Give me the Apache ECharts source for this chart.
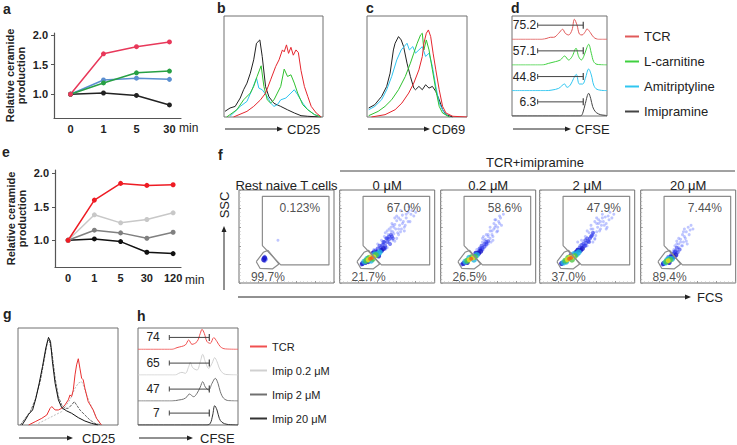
<!DOCTYPE html>
<html><head><meta charset="utf-8">
<script src="https://cdn.jsdelivr.net/npm/echarts@6/dist/echarts.min.js"></script>
<style>html,body{margin:0;padding:0;background:#fff}#c{width:737px;height:445px}</style>
</head><body><div id="c"></div>
<script>
const FONT = '"Liberation Sans", Arial, Helvetica, sans-serif';

// ===== Panel a: relative ceramide production =====
const aTimes = ['0','1','5','30'];
const aTCR  = [1.00, 1.68, 1.80, 1.88];
const aLcar = [1.00, 1.19, 1.36, 1.39];
const aAmit = [1.00, 1.24, 1.27, 1.25];
const aImip = [1.00, 1.02, 0.98, 0.82];
const cerTicks = [1.0, 1.5, 2.0];

// ===== Panel e =====
const eTimes = ['0','1','5','30','120'];
const eTCR    = [1.00, 1.60, 1.85, 1.82, 1.83];
const eImip02 = [1.00, 1.38, 1.26, 1.31, 1.41];
const eImip2  = [1.00, 1.15, 1.11, 1.03, 1.12];
const eImip20 = [1.00, 1.02, 0.98, 0.82, 0.80];

// ===== Panel b: CD25 histograms =====
const bImip = [[1,5.6],[6.1,8.9],[11.3,10.5],[16.4,18.8],[19.8,27],[23.2,33.5],[26.6,43.4],[30,56.6],[32.8,73],[36.2,76.3],[38.6,60],[42,30],[45.4,20],[50.5,13.5],[57.3,10.5],[64,7.2],[71,4],[77.8,1.3],[84.6,0.7],[98,0]];
const bAmit = [[6.1,0.7],[16.4,10.5],[23.2,15.5],[28.3,27],[32.8,38.5],[35.2,28.6],[38.6,27],[43.7,20.4],[47.1,13.8],[50.5,10.5],[53.9,12.2],[57.3,17],[62.5,18.8],[67.6,23.7],[71,27],[74.4,22],[79.5,13.8],[84.6,7.2],[91.5,2.3],[98.3,0]];
const bLcar = [[2.7,0],[13,7.2],[19.8,17],[26.6,23.7],[30,30.3],[33.4,40.1],[37.5,50.7],[40.3,30.3],[43.7,17],[47.1,13.8],[50.5,17],[53.9,23.7],[57.3,30.3],[60.8,47.4],[64.2,40.1],[67.6,41.8],[71,33.6],[74.4,23.7],[79.5,12.2],[84.6,7.2],[91.5,2.3],[98.3,0]];
const bTCR  = [[9.6,0],[23.2,5.6],[30,10.5],[36.9,17],[42,23.7],[47.1,36.8],[52.2,50],[55.6,56.6],[59,66.4],[60.8,64.5],[63.1,71.4],[65.2,63],[67.6,69],[70,61.2],[72.7,66.4],[75.1,63.8],[77.8,46],[81.2,30.3],[84.6,20.4],[88.1,10.5],[93.2,3.9],[98.3,0]];

// ===== Panel c: CD69 histograms =====
const cImip = [[1.7,8.9],[7.8,12.2],[14.6,20.4],[19.7,30.3],[23.1,43.4],[26.4,66.4],[28.1,73],[31.5,79.6],[34.2,76.3],[36.6,69.7],[40,53.3],[43.4,40.1],[46.8,28.6],[48.5,27],[51.9,30.3],[55.3,27],[58.6,31.9],[62,28.6],[65.4,30.3],[68.8,25.3],[72.2,17.1],[75.6,7.2],[79,2.3],[85.8,0]];
const cAmit = [[1.7,7.2],[7.8,10.5],[14.6,17.1],[19.7,27],[24.7,40.1],[29.8,56.6],[34.2,66.4],[40,73],[42.4,66.4],[45.8,69.7],[48.5,63.2],[51.9,66.4],[55.3,69.7],[58.6,59.9],[62,63.2],[65.4,50],[68.8,30.3],[72.2,13.8],[77.3,3.9],[82.4,0]];
const cLcar = [[1.7,1.3],[11.2,5.6],[18,10.5],[24.7,17.1],[31.5,27],[38.3,40.1],[43.4,53.3],[46.8,63.2],[50.2,73],[53.6,81.3],[55.3,82.9],[56.9,66.4],[59.3,76.3],[62,66.4],[65.4,46.7],[68.8,27],[72.2,10.5],[75.6,3.9],[82.4,0]];
const cTCR  = [[4.4,0],[18,2.3],[28.1,7.2],[34.9,13.8],[41.7,23.7],[46.8,33.6],[51.9,46.7],[55.3,59.9],[56.9,73],[59.3,82.9],[61.4,86.2],[63.7,79.6],[66.1,63.2],[68.8,46.7],[72.2,27],[75.6,10.5],[79,3.9],[85.8,0.7],[100,0]];

// ===== Panel d: CFSE dilution =====
const dNames = ['TCR','L-carnitine','Amitriptyline','Imipramine'];
const dPct = ['75.2','57.1','44.8','6.3'];
const dGate = [27, 75];
const dTCR  = [[0,0],[31.6,0],[36.8,3.9],[40.4,7.8],[43.9,7.8],[49.1,23.4],[53.3,39],[56.1,23.4],[59.6,16.9],[63.2,36.4],[65.6,77.9],[68.4,55.8],[70.9,20.8],[73.7,16.9],[77.2,29.9],[78.9,40.3],[82.5,26],[86,7.8],[91.2,0],[100,0]];
const dLcar = [[0,0],[31.6,0],[38.6,6.5],[45.6,13],[50.9,19.5],[55.4,35],[59.6,19.5],[63.2,32.5],[67.4,65],[70.2,32.5],[73,19.5],[75.4,32.5],[78.9,68.8],[80.7,80.5],[83.5,45.5],[86,13],[89.5,2.6],[100,0]];
const dAmit = [[0,0],[35.1,0],[42.1,2.6],[49.1,9.1],[55.4,26],[57.9,13],[61.4,22],[64.9,48],[67.7,63.6],[70.9,26],[74.4,26],[77.2,48],[80.7,84.4],[83.5,61],[86,22],[89.5,5.2],[100,0]];
const dImip = [[0,0],[71.9,0],[74.4,10.4],[77.2,49],[80.7,88.3],[82.8,68.8],[84.9,36.4],[87.7,16.9],[91.2,7.8],[94.7,3.9],[98.2,2.6],[100,0]];

// ===== Panel f: FCS/SSC dot plots [FCS, SSC, density level] =====
const fTitles = ['Rest naive T cells','0 \u03bcM','0.2 \u03bcM','2 \u03bcM','20 \u03bcM'];
const fUpper = ['0.123%','67.0%','58.6%','47.9%','7.44%'];
const fLower = ['99.7%','21.7%','26.5%','37.0%','89.4%'];
const gateBig = [[24.6,40.1],[24.6,93.2],[94.7,93.2],[94.7,19.4],[43.9,19.4]];
const gateSmall = [[18.2,22.9],[25.6,33],[30.5,35.1],[42.1,20.4],[35.1,15.1],[22.1,15.8]];
const fRest = [[26,25,3],[27,27,3],[28,26,2],[26,27,2],[27,24,2],[28,28,1],[25,26,1],[29,25,1],[27,29,1],[41,46,1]];
const f0 = [[32,26,7],[34,27,7],[30,25,6],[36,28,6],[33,28,6],[28,24,5],[38,30,5],[31,27,5],[35,26,5],[26,23,4],[40,31,4],[29,26,4],[37,31,4],[33,24,4],[42,33,4],[24,21,3],[27,22,3],[39,33,3],[44,35,3],[30,23,3],[41,29,3],[35,32,3],[46,37,3],[23,20,2],[43,38,2],[48,40,2],[45,41,2],[50,44,2],[38,35,2],[52,47,2],[47,44,2],[40,37,2],[53,42,2],[55,50,2],[49,48,2],[42,40,2],[46,44,2],[50,48,2],[44,36,2],[48,38,2],[52,50,2],[36,34,2],[40,30,2],[54,52,2],[56,48,2],
  [57,53,1],[54,56,1],[59,58,1],[61,54,1],[58,63,1],[63,62,1],[60,67,1],[65,58,1],[62,70,1],[67,66,1],[56,46,1],[51,52,1],[66,73,1],[70,70,1],[72,76,1],[75,74,1],[64,78,1],[69,62,1],[57,60,1],[52,58,1],[47,50,1],[60,48,1],[74,66,1],[68,56,1],[55,64,1],[78,72,1],
  [44,46,1],[48,36,1],[52,44,1],[46,42,1],[56,55,1],[58,45,1],[62,52,1],[50,56,1],[54,60,1],[64,68,1],[68,60,1],[60,72,1],[66,64,1],[70,74,1],[58,70,1],[72,66,1],[62,58,1],[54,48,1],[48,54,1],[44,40,1],[40,42,1],[36,36,1],[42,30,1],[50,38,1],[56,62,1],[64,55,1],[76,78,1],[80,76,1],[73,82,1],[45,34,1]];
const f02 = [[32,26,7],[34,27,6],[30,25,6],[36,28,5],[28,24,5],[33,28,5],[38,30,4],[26,23,4],[35,25,4],[30,27,4],[40,32,3],[24,21,3],[42,34,3],[28,22,3],[37,32,3],[44,36,2],[46,39,2],[41,37,2],[48,42,2],[50,45,2],[43,40,2],[22,20,2],[40,34,2],[44,38,2],[46,42,2],[38,32,2],[42,36,2],[48,44,2],
  [52,48,1],[55,50,1],[50,52,1],[54,56,1],[57,60,1],[59,55,1],[56,64,1],[61,66,1],[60,60,1],[47,47,1],[53,44,1],[63,70,1],[58,68,1],[64,62,1],[52,60,1],[66,74,1],[45,50,1],
  [44,44,1],[48,40,1],[50,50,1],[46,46,1],[54,52,1],[56,58,1],[52,56,1],[58,62,1],[60,56,1],[62,64,1],[50,42,1],[42,38,1],[38,36,1],[55,46,1],[57,68,1],[62,72,1],[48,52,1],[44,48,1]];
const f2 = [[31,26,7],[33,27,7],[35,28,6],[29,25,6],[32,28,6],[37,29,5],[27,24,5],[34,25,5],[30,27,5],[39,31,4],[25,22,4],[36,31,4],[41,33,4],[28,23,4],[43,35,3],[23,21,3],[38,33,3],[45,37,3],[33,30,3],[40,35,3],[47,40,2],[49,43,2],[44,41,2],[51,45,2],[53,48,2],[42,38,2],[55,51,2],[48,46,2],[44,38,2],[46,42,2],[48,40,2],[50,48,2],[52,44,2],[54,50,2],[40,36,2],[38,30,2],[56,54,2],
  [57,54,1],[59,51,1],[56,58,1],[61,60,1],[63,56,1],[60,64,1],[65,62,1],[67,66,1],[62,68,1],[70,64,1],[58,47,1],[52,54,1],[69,71,1],[73,68,1],[66,74,1],[76,70,1],[54,62,1],[71,60,1],
  [46,44,1],[50,40,1],[52,46,1],[48,50,1],[56,52,1],[58,48,1],[60,55,1],[54,58,1],[62,64,1],[64,58,1],[66,70,1],[68,62,1],[58,66,1],[72,72,1],[44,46,1],[42,40,1],[60,70,1],[74,76,1],[50,56,1],[56,44,1],[64,66,1],[70,58,1],[40,44,1],[78,74,1]];
const f20 = [[29,24,6],[31,25,5],[27,23,5],[30,26,4],[33,26,4],[26,22,4],[28,25,4],[35,28,3],[24,21,3],[32,28,3],[37,30,3],[30,22,3],[34,31,2],[39,33,2],[36,34,2],[41,36,2],[38,38,2],[23,20,2],[32,30,2],[35,32,2],[37,34,2],[29,28,2],[33,27,2],
  [43,40,1],[40,42,1],[45,44,1],[42,47,1],[47,48,1],[44,52,1],[48,55,1],[46,58,1],[50,60,1],[51,52,1],[38,45,1],[53,62,1],[49,42,1],[36,40,1],
  [35,36,1],[40,38,1],[42,44,1],[44,40,1],[46,50,1],[40,48,1],[48,45,1],[52,57,1],[34,34,1],[38,42,1],[45,55,1],[55,58,1]];
const fPoints = [fRest, f0, f02, f2, f20];

// ===== Panel g: CD25 histograms =====
const gTCR = [[10.6,0],[17.2,3.4],[23.8,6.9],[28.8,10.3],[32.1,17.2],[33.8,19],[37.1,15.5],[40.4,15.5],[43.7,17.2],[47,20.7],[50.3,25.9],[52,31],[53.6,29.3],[55.3,36.2],[57,51.7],[58.6,62],[60.3,68.3],[61.9,58.6],[63.6,48.3],[65.2,46.6],[66.9,37.9],[70.2,24.1],[75.2,15.5],[78.5,6.9],[83.4,0]];
const gImip02 = [[17.2,0],[30.5,6.9],[43.7,13.8],[52,25.9],[57,37.9],[60.3,43.1],[63.6,44.8],[65.2,41.4],[68.5,31],[73.5,19],[78.5,6.9],[83.4,0]];
const gImip2 = [[2.3,0],[7.3,6.9],[12.3,13.8],[17.2,25.9],[22.2,44.8],[26.5,69],[29.5,86.2],[31.1,87.9],[33.8,75.9],[37.1,48.3],[40.4,29.3],[43.7,20.7],[47,17.2],[50.3,17.2],[53.6,20.7],[56.3,24.1],[58.6,20.7],[61.9,15.5],[66.9,10.3],[71.9,5.2],[76.8,1.7],[83.4,0]];
const gImip20 = [[4,0],[7.3,5.2],[10.6,11],[14.6,15.5],[17.9,27.6],[21.2,43.1],[24.5,60.3],[27.8,79.3],[30.5,90.3],[32.5,86.2],[34.4,65.5],[37.1,43.1],[40.4,25.9],[43.7,17.9],[48.7,14.5],[53.6,12.1],[60.3,7.6],[66.9,4.1],[73.5,1.7],[80.1,0]];

// ===== Panel h: CFSE dilution =====
const hNames = ['TCR','Imip 0.2 \u03bcM','Imip 2 \u03bcM','Imip 20 \u03bcM'];
const hPct = ['74','65','47','7'];
const hGate = [31.3, 71.3];
const hTCR = [[0,0],[34,0],[39,6.6],[47.3,17],[50.7,36.8],[54,19.7],[59,30.3],[62.3,63],[64,79],[66.3,63],[69,30.3],[72.3,23.7],[75.7,46],[79,30.3],[82.3,10.5],[87.3,1.3],[100,0]];
const hImip02 = [[0,0],[37.3,0],[40.7,6.6],[44,10.5],[47.3,6.6],[50.7,33],[52.3,50],[54.7,29],[59,19.7],[62.3,52.6],[64.7,81.6],[67.3,52.6],[70.7,26.3],[74,46],[76.7,68.4],[79,52.6],[82.3,19.7],[87.3,2.6],[100,0]];
const hImip2 = [[0,0],[34,0],[40.7,3.9],[45.7,7.9],[49,17],[51.3,27.6],[55.7,17],[59,30.3],[62.3,55.3],[64.7,76.3],[67.3,55.3],[70.7,43.4],[74,69.7],[77.3,89.5],[80,69.7],[82.3,36.8],[85.7,10.5],[90.7,1.3],[100,0]];
const hImip20 = [[0,0],[69,0],[72.3,6.6],[74.7,39.5],[76.7,76.3],[79,59.2],[81.3,26.3],[84,10.5],[89,2.6],[100,0]];

// ================= build =================
const grids = [], xAxis = [], yAxis = [], series = [];
function addGrid(g, xa, ya) {
  const i = grids.length; grids.push(g);
  xAxis.push(Object.assign({gridIndex: i}, xa));
  yAxis.push(Object.assign({gridIndex: i}, ya));
  return i;
}
const hidden = (min, max) => ({type: 'value', min, max, show: false});
const frame = (left, top, width, height) => ({left, top, width, height, show: true, borderColor: '#707070', borderWidth: 1, backgroundColor: 'rgba(0,0,0,0)'});
function curve(gi, name, data, color, extra) {
  series.push(Object.assign({type: 'line', name, xAxisIndex: gi, yAxisIndex: gi, data, symbol: 'none', showSymbol: false,
    lineStyle: {color, width: 1}, itemStyle: {color}, silent: true, z: 3}, extra || {}));
}
function bracket(gi, x0, x1, y, txt, dist, fs) {
  series.push({type: 'line', xAxisIndex: gi, yAxisIndex: gi, silent: true, symbol: 'rect', showSymbol: true, z: 4,
    lineStyle: {color: '#444', width: 1}, itemStyle: {color: '#444'},
    data: [{value: [x0, y], symbolSize: [1, 5], label: {show: true, position: 'left', distance: dist, formatter: txt, fontSize: fs, color: '#222'}},
           {value: [x1, y], symbolSize: [1.2, 7]}]});
}

const axLine = {show: true, onZero: false, lineStyle: {color: '#555', width: 1.2}};
const boldLbl = {fontWeight: 'bold', fontSize: 11, color: '#222'};
function timeAxes(times, xmax, ymax) {
  return [
    {type: 'value', min: -0.5, max: xmax, axisLine: axLine, axisTick: {show: false}, splitLine: {show: false},
     axisLabel: Object.assign({customValues: times.map((_, i) => i), formatter: v => (times[v] !== undefined ? times[v] : ''), margin: 5}, boldLbl)},
    {type: 'value', min: 0.6, max: ymax, axisLine: axLine, splitLine: {show: false},
     axisTick: {show: true, length: 3, customValues: cerTicks, lineStyle: {color: '#555'}},
     axisLabel: Object.assign({customValues: cerTicks, formatter: v => v.toFixed(1), margin: 6}, boldLbl),
     name: 'Relative ceramide\nproduction', nameLocation: 'middle', nameGap: 28,
     nameTextStyle: {fontWeight: 'bold', fontSize: 11, lineHeight: 11, color: '#222'}}
  ];
}
const ptSeries = (gi, name, times, vals, color) => ({type: 'line', name, xAxisIndex: gi, yAxisIndex: gi, silent: true,
  data: times.map((_, i) => [i, vals[i]]), symbol: 'circle', symbolSize: 5, showSymbol: true,
  lineStyle: {color, width: 1.5}, itemStyle: {color}});

// a
let ta = timeAxes(aTimes, 3.35, 2.03);
const ga = addGrid({left: 54, top: 33, width: 127, height: 85}, ta[0], ta[1]);
series.push(ptSeries(ga, 'a Imipramine', aTimes, aImip, '#222'));
series.push(ptSeries(ga, 'a Amitriptyline', aTimes, aAmit, '#5b8fd0'));
series.push(ptSeries(ga, 'a L-carnitine', aTimes, aLcar, '#27a044'));
series.push(ptSeries(ga, 'a TCR', aTimes, aTCR, '#e8385a'));

// e
let te = timeAxes(eTimes, 4.3, 2.05);
const ge = addGrid({left: 55, top: 170, width: 126, height: 97}, te[0], te[1]);
series.push(ptSeries(ge, 'e Imip 20', eTimes, eImip20, '#111'));
series.push(ptSeries(ge, 'e Imip 2', eTimes, eImip2, '#808080'));
series.push(ptSeries(ge, 'e Imip 0.2', eTimes, eImip02, '#c8c8c8'));
series.push(ptSeries(ge, 'e TCR', eTimes, eTCR, '#ee1c24'));

// b
const gb = addGrid(frame(224, 16, 99, 101), hidden(0, 100), hidden(0, 100));
curve(gb, 'b Imipramine', bImip, '#222');
curve(gb, 'b Amitriptyline', bAmit, '#2ec4ef');
curve(gb, 'b L-carnitine', bLcar, '#2fc12f');
curve(gb, 'b TCR', bTCR, '#e5262e');
// c
const gc = addGrid(frame(367, 16, 100, 101), hidden(0, 100), hidden(0, 100));
curve(gc, 'c Imipramine', cImip, '#222');
curve(gc, 'c Amitriptyline', cAmit, '#2ec4ef');
curve(gc, 'c L-carnitine', cLcar, '#2fc12f');
curve(gc, 'c TCR', cTCR, '#e5262e');

// d
addGrid(frame(512, 16, 95, 100), hidden(0, 100), hidden(0, 100));
const dData = [dTCR, dLcar, dAmit, dImip];
const dColors = ['#e05a5a', '#3fd03f', '#30c6f0', '#444'];
const dBase = [39.3, 65, 90.7, 116];
dData.forEach((arr, i) => {
  const gi = addGrid({left: 512, top: dBase[i] - 25.7, width: 95, height: 25.7}, hidden(0, 100), hidden(0, 100));
  curve(gi, dNames[i], arr, dColors[i], {smooth: 0.35});
  bracket(gi, dGate[0], dGate[1], 55, dPct[i], 1, 12);
});

// f
const fLeft = [239, 339.7, 440.7, 539.7, 640.7];
const dotColor = [null, 'rgba(110,125,255,0.55)', 'rgba(45,55,235,0.75)', '#1818c8', '#1fb4e0', '#4ec846', '#e8e020', '#f05a1e'];
const dotSize = [0, 3, 4, 5, 6, 6, 5, 4];
const fAxis = () => ({type: 'value', min: 0, max: 100, interval: 20, axisLine: {show: false},
  axisTick: {show: true, inside: true, length: 2, lineStyle: {color: '#999'}},
  minorTick: {show: true, splitNumber: 5, length: 1.5, lineStyle: {color: '#bbb'}},
  axisLabel: {show: false}, splitLine: {show: false}});
fLeft.forEach((L, k) => {
  const gi = addGrid(frame(L, 190, 95, 93), fAxis(), fAxis());
  curve(gi, 'gate big', gateBig.concat([gateBig[0]]), '#8c8c8c', {lineStyle: {color: '#8c8c8c', width: 1.2}});
  curve(gi, 'gate small', gateSmall.concat([gateSmall[0]]), '#8c8c8c', {lineStyle: {color: '#8c8c8c', width: 1.2}});
  const pts = fPoints[k].slice().sort((p, q) => p[2] - q[2]);
  series.push({type: 'scatter', xAxisIndex: gi, yAxisIndex: gi, silent: true, z: 2, data: pts,
    symbolSize: v => dotSize[v[2]], itemStyle: {color: p => dotColor[p.value[2]]}});
  series.push({type: 'scatter', xAxisIndex: gi, yAxisIndex: gi, silent: true, z: 5, symbolSize: 1,
    itemStyle: {color: 'rgba(0,0,0,0)'}, data: [[86, 81]],
    label: {show: true, position: 'left', distance: 0, formatter: fUpper[k], fontSize: 12, color: '#222'}});
  series.push({type: 'scatter', xAxisIndex: gi, yAxisIndex: gi, silent: true, z: 5, symbolSize: 1,
    itemStyle: {color: 'rgba(0,0,0,0)'}, data: [[12, 6]],
    label: {show: true, position: 'right', distance: 0, formatter: fLower[k], fontSize: 12, color: '#222'}});
});

// g
const gg = addGrid(frame(18, 328, 100, 97), hidden(0, 100), hidden(0, 100));
curve(gg, 'g Imip 0.2', gImip02, '#bdbdbd', {lineStyle: {color: '#bdbdbd', width: 1, type: [2, 1.5]}});
curve(gg, 'g TCR', gTCR, '#e83030');
curve(gg, 'g Imip 2', gImip2, '#666', {lineStyle: {color: '#666', width: 1, type: [3, 1]}});
curve(gg, 'g Imip 20', gImip20, '#111');

// h
addGrid(frame(138, 328, 100, 97), hidden(0, 100), hidden(0, 100));
const hData = [hTCR, hImip02, hImip2, hImip20];
const hColors = ['#f05050', '#d0d0d0', '#707070', '#333'];
const hBase = [349.3, 375, 401, 425];
hData.forEach((arr, i) => {
  const gi = addGrid({left: 138, top: hBase[i] - 25.3, width: 100, height: 25.3}, hidden(0, 100), hidden(0, 100));
  curve(gi, hNames[i], arr, hColors[i], {smooth: 0.35});
  bracket(gi, hGate[0], hGate[1], 47, hPct[i], 9, 12);
});

// ============ decorations (text, arrows) ============
const graphic = [];
function txt(text, x, y, o) {
  graphic.push({type: 'text', x, y, silent: true, rotation: (o && o.rot) || 0,
    style: {text, font: (o && o.font) || ('13px ' + FONT), fill: '#222', align: (o && o.align) || 'left', verticalAlign: 'middle'}});
}
function arrow(x1, y1, x2, y2) {
  const dx = x2 - x1, dy = y2 - y1, L = Math.hypot(dx, dy), ux = dx / L, uy = dy / L;
  const bx = x2 - ux * 6, by = y2 - uy * 6;
  graphic.push({type: 'line', silent: true, shape: {x1, y1, x2: bx, y2: by}, style: {stroke: '#222', lineWidth: 1}});
  graphic.push({type: 'polygon', silent: true, shape: {points: [[x2, y2], [bx - uy * 2.5, by + ux * 2.5], [bx + uy * 2.5, by - ux * 2.5]]}, style: {fill: '#222'}});
}
const LET = 'bold 14px ' + FONT;
txt('a', 3, 9, {font: LET}); txt('b', 217, 8, {font: LET}); txt('c', 366, 8, {font: LET}); txt('d', 511, 8, {font: LET});
txt('e', 2, 152, {font: LET}); txt('f', 218, 155, {font: LET}); txt('g', 3, 314, {font: LET}); txt('h', 137, 316, {font: LET});
txt('min', 179, 128, {font: '12px ' + FONT});
txt('min', 185, 280, {font: '12px ' + FONT});
arrow(225, 129, 283, 129); txt('CD25', 287, 129);
arrow(368, 129, 430, 129); txt('CD69', 432, 129);
arrow(513, 129, 571, 129); txt('CFSE', 575, 129);
arrow(19, 438, 73, 438); txt('CD25', 82, 438);
arrow(139, 438, 193, 438); txt('CFSE', 200, 438);
arrow(238, 297, 691, 297); txt('FCS', 697, 297);
arrow(224, 290, 224, 226); txt('SSC', 224, 205, {align: 'center', rot: Math.PI / 2});
txt('TCR+imipramine', 535, 162, {align: 'center'});
graphic.push({type: 'line', silent: true, shape: {x1: 340, y1: 171, x2: 735, y2: 171}, style: {stroke: '#444', lineWidth: 1}});
fTitles.forEach((t, k) => txt(t, fLeft[k] + 47.5, 185, {align: 'center'}));

const chart = echarts.init(document.getElementById('c'), null, {renderer: 'svg'});
chart.setOption({
  animation: false,
  textStyle: {fontFamily: FONT},
  grid: grids, xAxis, yAxis, series, graphic,
  legend: [
    {left: 620, top: 24, orient: 'vertical', icon: 'rect', itemWidth: 14, itemHeight: 2, itemGap: 10, selectedMode: false,
     textStyle: {fontSize: 13, lineHeight: 15, color: '#222'},
     data: dNames.map((n, i) => ({name: n, itemStyle: {color: dColors[i]}}))},
    {left: 245, top: 335, orient: 'vertical', icon: 'rect', itemWidth: 17, itemHeight: 2, itemGap: 11, selectedMode: false,
     textStyle: {fontSize: 11, lineHeight: 13, color: '#222'},
     data: hNames.map((n, i) => ({name: n, itemStyle: {color: hColors[i]}}))}
  ]
});
</script></body></html>
